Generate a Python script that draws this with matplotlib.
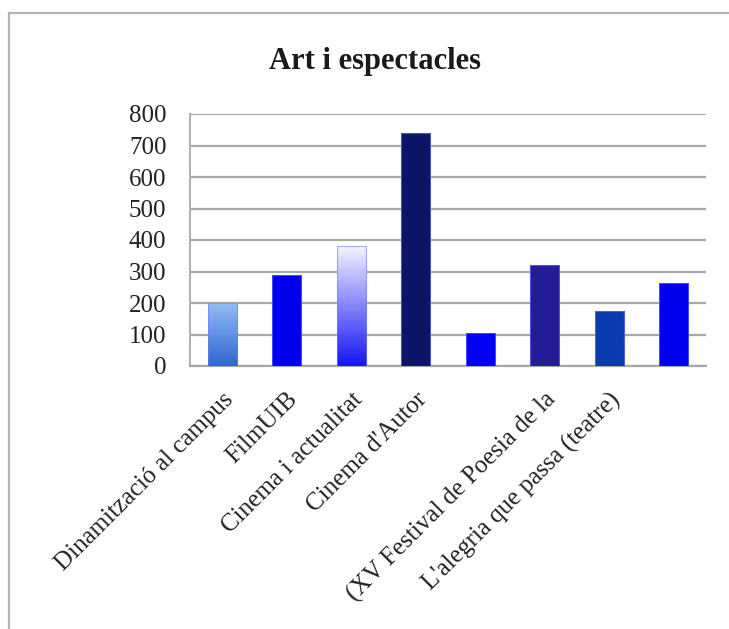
import numpy as np
import matplotlib
matplotlib.use("Agg")
import matplotlib.pyplot as plt
from matplotlib.colors import LinearSegmentedColormap
from matplotlib.patches import Rectangle

# data
categories = ["Dinamització al campus", "FilmUIB", "Cinema i actualitat",
              "Cinema d'Autor", "", "(XV Festival de Poesia de la",
              "L'alegria que passa (teatre)", ""]
values = [200, 290, 380, 740, 105, 320, 175, 265]
yticks = [0, 100, 200, 300, 400, 500, 600, 700, 800]

# bar fills: (top colour, bottom colour)
fills = [("#94bcf6", "#2f66d2"), ("#0000ee", "#0000ee"), ("#f4f4ff", "#1414f4"),
         ("#0c1468", "#0c1468"), ("#0000f4", "#0000f4"), ("#221d96", "#221d96"),
         ("#0a3cae", "#0a3cae"), ("#0000ee", "#0000ee")]

plt.rcParams["font.family"] = ["Liberation Serif", "DejaVu Serif"]

W, H = 729, 629
fig = plt.figure(figsize=(W / 100, H / 100), dpi=100)
ax = fig.add_axes([190 / W, 1 - 366 / H, (706 - 190) / W, (366 - 114) / H])

x = np.arange(len(values))
bars = ax.bar(x, values, width=0.45, color="none", edgecolor="none", zorder=3)

# gradient fills clipped to each bar
for b, (top, bot) in zip(bars, fills):
    cmap = LinearSegmentedColormap.from_list("g", [bot, top])
    grad = np.linspace(0, 1, 256).reshape(-1, 1)
    x0, w, h = b.get_x(), b.get_width(), b.get_height()
    im = ax.imshow(grad, cmap=cmap, origin="lower", aspect="auto",
                   extent=[x0, x0 + w, 0, h], zorder=3, interpolation="bicubic")
    im.set_clip_path(b)
    ax.add_patch(Rectangle((x0, 0), w, h, fill=False, edgecolor="#7a7aff",
                           linewidth=0.8, alpha=0.6, zorder=4))

ax.set_xlim(-0.5, len(values) - 0.5)
ax.set_ylim(0, 800)
ax.set_yticks(yticks)
ax.set_xticks(x)
ax.set_xticklabels(categories, rotation=45, ha="right", va="top",
                   rotation_mode="anchor", fontsize=18, color="#222222")
ax.tick_params(axis="y", length=0, pad=17, labelsize=18, labelcolor="#222222")
ax.tick_params(axis="x", length=0, pad=16)

ax.yaxis.grid(True, color="#a8a8a8", linewidth=1.6, zorder=0)
ax.set_axisbelow(True)
for s in ["top", "right"]:
    ax.spines[s].set_visible(False)
ax.spines["left"].set_color("#b0b0b0")
ax.spines["left"].set_linewidth(1.4)
ax.spines["bottom"].set_color("#a8a8a8")
ax.spines["bottom"].set_linewidth(1.6)

fig.text(375 / W, 1 - 62 / H, "Art i espectacles", ha="center", va="center",
         fontsize=22, fontweight="bold", color="#1a1a1a")

# outer chart frame (top and left visible)
fig.patches.append(Rectangle((9 / W, -0.1), 1.2, 1 - 13 / H + 0.1,
                             transform=fig.transFigure, fill=False,
                             edgecolor="#b4b4b4", linewidth=1.6))

fig.savefig("out.png", dpi=100)
